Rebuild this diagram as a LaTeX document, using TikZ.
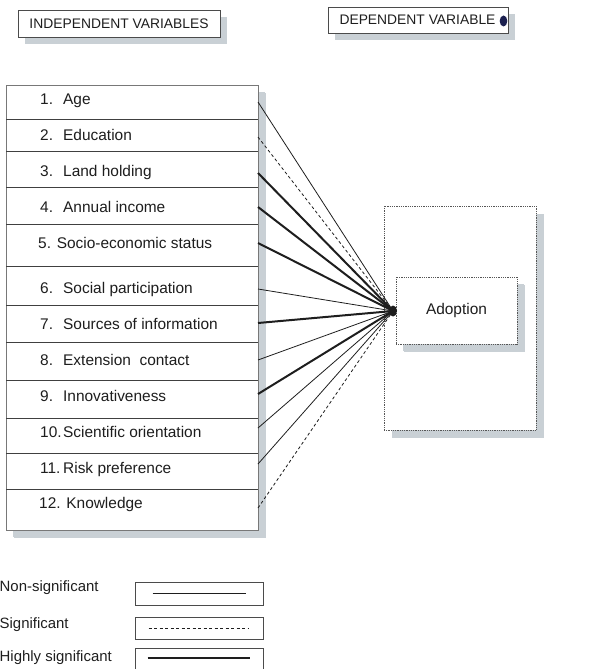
\documentclass[tikz,border=0pt]{standalone}
\usepackage{fontspec}
\setmainfont{Liberation Sans}
\usetikzlibrary{shadows,calc,shapes.geometric}
\definecolor{shadowc}{HTML}{C9D0D5}
\definecolor{ink}{HTML}{1E1E1E}
\definecolor{navy}{HTML}{1C2150}
\newcommand\numbox[1]{\makebox[23bp][l]{#1}}
\begin{document}
\begin{tikzpicture}[x=1bp,y=-1bp,
  myshadow/.style={drop shadow={shadow xshift=#1, shadow yshift=-#1, fill=shadowc, opacity=1}},
  shadowbox/.style={draw=ink!80, line width=0.8bp, fill=white, myshadow=7bp},
  header/.style={shadowbox, font=\fontsize{13.9}{16}\selectfont, text=ink, inner sep=0},
  rowtext/.style={anchor=west, inner sep=0, font=\fontsize{15.5}{18}\selectfont, text=ink, text height=11bp, text depth=3bp},
  divider/.style={draw=ink!85, line width=0.9bp},
  nonsig/.style={draw=ink, line width=0.8bp},
  sig/.style={draw=ink, line width=0.8bp, dash pattern=on 3bp off 2.5bp},
  highsig/.style={draw=ink, line width=2bp},
  dotbox/.style={draw=ink!75, line width=0.8bp, densely dotted, fill=white, myshadow=7.5bp, inner sep=0},
  legbox/.style={draw=ink!80, line width=0.9bp, minimum width=128bp, inner sep=0},
  legtext/.style={anchor=west, inner sep=0, font=\fontsize{15}{18}\selectfont, text=ink}
]
\useasboundingbox (0,0) rectangle (592,669);

% headers
\node[header, minimum width=202bp, minimum height=27bp] (indep) at (119,23.5) {INDEPENDENT VARIABLES};
\node[header, minimum width=180bp, minimum height=26bp] (dep) at (418,20) {DEPENDENT VARIABLE\hspace*{1bp}};
\fill[navy] (503.5,21) ellipse [x radius=3.8, y radius=5.5];

% left box
\node[shadowbox, draw=ink!60, minimum width=252bp, minimum height=445bp, anchor=north west, inner sep=0, myshadow=7.5bp] (leftbox) at (6,85) {};
\foreach \y in {119,151,187,224,266,305,342,380,418,453,489}
  \draw[divider] (6,\y) -- (258,\y);

\node[rowtext] (r1) at (40,101) {\numbox{1.}Age};
\node[rowtext] (r2) at (40,136) {\numbox{2.}Education};
\node[rowtext] (r3) at (40,172) {\numbox{3.}Land holding};
\node[rowtext] (r4) at (40,208) {\numbox{4.}Annual income};
\node[rowtext] (r5) at (38,244) {5. Socio-economic status};
\node[rowtext] (r6) at (40,289) {\numbox{6.}Social participation};
\node[rowtext] (r7) at (40,325) {\numbox{7.}Sources of information};
\node[rowtext] (r8) at (40,361) {\numbox{8.}Extension~~contact};
\node[rowtext] (r9) at (40,397) {\numbox{9.}Innovativeness};
\node[rowtext] (r10) at (40,433) {\numbox{10.}Scientific orientation};
\node[rowtext] (r11) at (40,469) {\numbox{11.}Risk preference};
\node[rowtext] (r12) at (39,504) {12. Knowledge};

% right boxes
\node[dotbox, minimum width=152bp, minimum height=224bp] (outer) at (460,318) {};
\node[dotbox, myshadow=7bp, minimum width=121bp, minimum height=67bp, font=\fontsize{15.5}{18}\selectfont, text=ink] (adopt) at (456.5,310.5) {Adoption};

% hub and connectors
\node[ellipse, fill=ink, inner sep=0, minimum width=8bp, minimum height=11bp] (hub) at (393,311) {};
\coordinate (s1) at (258,102);
\coordinate (s2) at (258,137);
\coordinate (s3) at (258,173);
\coordinate (s4) at (258,207);
\coordinate (s5) at (258,243);
\coordinate (s6) at (258,289);
\coordinate (s7) at (258,323);
\coordinate (s8) at (258,360);
\coordinate (s9) at (258,394);
\coordinate (s10) at (258,428);
\coordinate (s11) at (258,464);
\coordinate (s12) at (258,508);
\draw[nonsig] (s1) -- (hub.center);
\draw[sig] (s2) -- (hub.center);
\draw[highsig] (s3) -- (hub.center);
\draw[highsig] (s4) -- (hub.center);
\draw[highsig] (s5) -- (hub.center);
\draw[nonsig] (s6) -- (hub.center);
\draw[highsig] (s7) -- (hub.center);
\draw[nonsig] (s8) -- (hub.center);
\draw[highsig] (s9) -- (hub.center);
\draw[nonsig] (s10) -- (hub.center);
\draw[nonsig] (s11) -- (hub.center);
\draw[sig] (s12) -- (hub.center);

% legend
\node[legtext] (l1) at (-0.5,588) {Non-significant};
\node[legtext] (l2) at (-0.5,625) {Significant};
\node[legtext] (l3) at (-0.5,658) {Highly significant};
\node[legbox, minimum height=23bp] (lg1) at (199,593.5) {};
\node[legbox, minimum height=22bp] (lg2) at (199,628) {};
\node[legbox, minimum height=24bp] (lg3) at (199,660) {};
\draw[nonsig] ($(lg1.west)+(18,0)$) -- ($(lg1.east)+(-17,0)$);
\draw[sig] ($(lg2.west)+(14,0)$) -- ($(lg2.east)+(-15,0)$);
\draw[highsig] ($(lg3.west)+(13,-2)$) -- ($(lg3.east)+(-13,-2)$);
\end{tikzpicture}
\end{document}
